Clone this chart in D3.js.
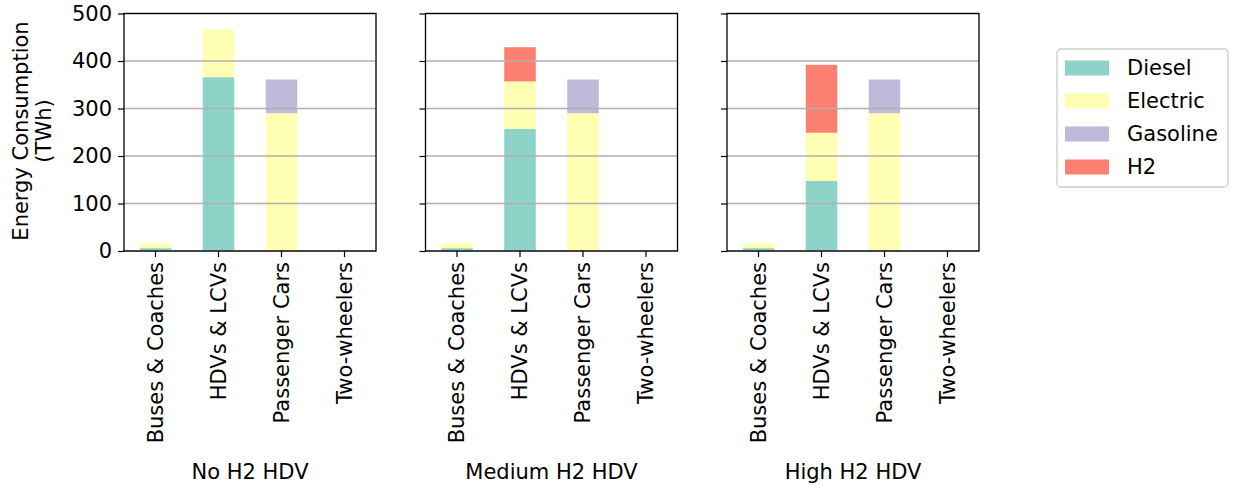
<!DOCTYPE html>
<html>
<head>
<meta charset="utf-8">
<script src="https://cdn.jsdelivr.net/npm/d3@7"></script>
<style>
  body { margin: 0; background: #fff; }
  text { font-family: "DejaVu Sans", sans-serif; fill: #000; }
</style>
</head>
<body>
<div id="chart"></div>
<script>
// data
var scenarios = ["No H2 HDV", "Medium H2 HDV", "High H2 HDV"];
var categories = ["Buses & Coaches", "HDVs & LCVs", "Passenger Cars", "Two-wheelers"];
var fuels = ["Diesel", "Electric", "Gasoline", "H2"];
var fuelColors = ["#8dd3c7", "#ffffb3", "#bebada", "#fb8072"];
var yTicks = [0, 100, 200, 300, 400, 500];

// one row per scenario, one value per category
var diesel   = [[6, 366, 0, 0], [6, 257, 0, 0], [6, 148, 0, 0]];
var electric = [[10, 100, 290, 1], [10, 100, 290, 1], [10, 101, 290, 1]];
var gasoline = [[0, 0, 71, 0], [0, 0, 71, 0], [0, 0, 71, 0]];
var h2       = [[0, 0, 0, 0], [0, 72, 0, 0], [0, 143, 0, 0]];
var series = [diesel, electric, gasoline, h2];

var W = 1233, H = 488;
var fontSize = "21px";
var panelLeft = [124, 425.5, 727];
var panelW = 252;
var plotTop = 13.5, plotBottom = 251;

var svg = d3.select("#chart").append("svg")
    .attr("width", W)
    .attr("height", H);

var y = d3.scaleLinear().domain([0, 500]).range([plotBottom, plotTop]);

scenarios.forEach(function(sc, s) {
    var g = svg.append("g")
        .attr("transform", "translate(" + panelLeft[s] + ",0)");

    var x = d3.scaleBand()
        .domain(categories)
        .range([0, panelW])
        .paddingInner(0.5)
        .paddingOuter(0.25);

    // stacked bars
    var rows = categories.map(function(c, i) {
        var r = {cat: c};
        fuels.forEach(function(f, k) { r[f] = series[k][s][i]; });
        return r;
    });
    var stacked = d3.stack().keys(fuels)(rows);

    g.selectAll("g.layer")
        .data(stacked)
        .enter().append("g")
        .attr("fill", function(d, k) { return fuelColors[k]; })
        .selectAll("rect")
        .data(function(d) { return d; })
        .enter().append("rect")
        .attr("x", function(d) { return x(d.data.cat); })
        .attr("width", x.bandwidth())
        .attr("y", function(d) { return y(d[1]); })
        .attr("height", function(d) { return y(d[0]) - y(d[1]); });

    // horizontal grid on top of the bars
    g.selectAll("line.grid")
        .data(yTicks)
        .enter().append("line")
        .attr("x1", 0).attr("x2", panelW)
        .attr("y1", function(d) { return y(d); })
        .attr("y2", function(d) { return y(d); })
        .attr("stroke", "#b0b0b0")
        .attr("stroke-width", 1.3);

    // y axis
    var yAxis = d3.axisLeft(y).tickValues(yTicks).tickSize(6).tickPadding(6);
    if (s > 0) yAxis.tickFormat("");
    var ya = g.append("g").call(yAxis);
    ya.attr("font-family", null).attr("font-size", null);
    ya.select(".domain").remove();
    ya.selectAll("line").attr("stroke", "#000").attr("stroke-width", 1.2);
    ya.selectAll("text").style("font-size", fontSize);

    // x axis with rotated labels
    var xa = g.append("g")
        .attr("transform", "translate(0," + plotBottom + ")")
        .call(d3.axisBottom(x).tickSize(6).tickPadding(0));
    xa.attr("font-family", null).attr("font-size", null);
    xa.select(".domain").remove();
    xa.selectAll("line").attr("stroke", "#000").attr("stroke-width", 1.2);
    xa.selectAll("text")
        .style("font-size", fontSize)
        .attr("transform", "rotate(-90)")
        .attr("x", -11)
        .attr("y", 0)
        .attr("dy", "0.35em")
        .attr("text-anchor", "end");

    // frame
    g.append("rect")
        .attr("x", 0).attr("y", plotTop)
        .attr("width", panelW).attr("height", plotBottom - plotTop)
        .attr("fill", "none")
        .attr("stroke", "#000")
        .attr("stroke-width", 1.3);

    // scenario label
    g.append("text")
        .attr("x", panelW / 2)
        .attr("y", 479)
        .attr("text-anchor", "middle")
        .style("font-size", fontSize)
        .text(sc);
});

// y axis title
var yt = svg.append("text")
    .attr("transform", "translate(27.5,131) rotate(-90)")
    .attr("text-anchor", "middle")
    .style("font-size", fontSize);
yt.append("tspan").attr("x", 0).attr("y", 0).text("Energy Consumption");
yt.append("tspan").attr("x", 0).attr("y", 23).text("(TWh)");

// legend
var lg = svg.append("g").attr("transform", "translate(1057,49)");
lg.append("rect")
    .attr("width", 171).attr("height", 138)
    .attr("rx", 4)
    .attr("fill", "#fff")
    .attr("stroke", "#cccccc")
    .attr("stroke-width", 1.3);
fuels.forEach(function(f, k) {
    var row = lg.append("g").attr("transform", "translate(0," + (19 + k * 33) + ")");
    row.append("rect")
        .attr("x", 8).attr("y", -7.5)
        .attr("width", 44).attr("height", 15)
        .attr("fill", fuelColors[k]);
    row.append("text")
        .attr("x", 70).attr("y", 0)
        .attr("dy", "0.35em")
        .style("font-size", fontSize)
        .text(f);
});
</script>
</body>
</html>
